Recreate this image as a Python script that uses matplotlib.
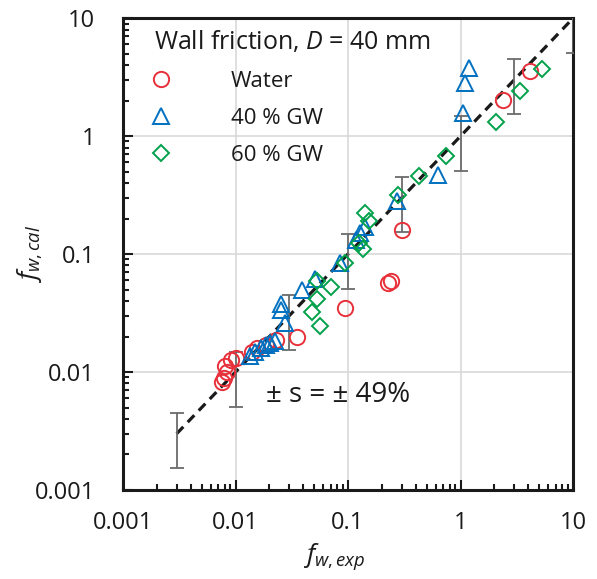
import matplotlib
matplotlib.use('Agg')
import matplotlib.pyplot as plt
from matplotlib.ticker import LogLocator, NullFormatter, FixedLocator

# values
water_x = [0.0076, 0.0079, 0.0084, 0.0081, 0.0091, 0.0101, 0.0140, 0.0155, 0.0187, 0.0229,
           0.0352, 0.094, 0.227, 0.241, 0.302, 2.37, 4.15]
water_y = [0.0082, 0.0089, 0.0100, 0.0113, 0.0127, 0.0132, 0.0148, 0.0160, 0.0169, 0.0187,
           0.0198, 0.0348, 0.0568, 0.0595, 0.160, 2.02, 3.58]

gw40_x = [0.0135, 0.0149, 0.0169, 0.0187, 0.0203, 0.0224, 0.0275, 0.0254, 0.0254, 0.039,
          0.0509, 0.0849, 0.118, 0.128, 0.142, 0.273, 0.631, 1.05, 1.10, 1.19]
gw40_y = [0.0137, 0.0148, 0.0160, 0.0169, 0.0176, 0.0183, 0.026, 0.0335, 0.0377, 0.0495,
          0.0614, 0.0839, 0.1315, 0.151, 0.169, 0.281, 0.467, 1.57, 2.81, 3.77]

gw60_x = [0.0564, 0.0479, 0.053, 0.053, 0.0706, 0.094, 0.136, 0.125, 0.142, 0.154,
          0.278, 0.428, 0.743, 2.07, 3.38, 5.3]
gw60_y = [0.0246, 0.0322, 0.0416, 0.059, 0.0525, 0.084, 0.110, 0.125, 0.222, 0.191,
          0.316, 0.458, 0.678, 1.315, 2.40, 3.70]

line_x = [0.003, 10]
err_x = [0.003, 0.01, 0.03, 0.1, 0.3, 1, 3, 10]
s_dev = 0.49

ticks = [0.001, 0.01, 0.1, 1, 10]
tick_labels = ['0.001', '0.01', '0.1', '1', '10']

plt.rcParams['font.family'] = ['Open Sans', 'DejaVu Sans']
plt.rcParams['mathtext.fontset'] = 'custom'
plt.rcParams['mathtext.rm'] = 'Open Sans'
plt.rcParams['mathtext.it'] = 'Open Sans:italic'

fig = plt.figure(figsize=(5.97, 5.79), dpi=100)
ax = fig.add_axes([0.206, 0.1537, 0.754, 0.815])
ax.set_xscale('log')
ax.set_yscale('log')
ax.set_xlim(0.001, 10)
ax.set_ylim(0.001, 10)

ax.grid(True, which='major', color='#d9d9d9', lw=1.2, zorder=0)
ax.set_axisbelow(True)

ax.plot(line_x, line_x, ls=(0, (3, 2)), color='#1a1a1a', lw=2.3, zorder=2)
ax.errorbar(err_x, err_x, yerr=[[s_dev * v for v in err_x], [s_dev * v for v in err_x]],
            fmt='none', ecolor='#6b6b6b', elinewidth=1.3, capsize=5, capthick=1.3, zorder=3)

ms = 11
ax.plot(water_x, water_y, 'o', mfc='none', mec='#e8303a', mew=1.4, ms=ms, label='Water', zorder=4)
ax.plot(gw40_x, gw40_y, '^', mfc='none', mec='#0070c0', mew=1.4, ms=ms, label='40 % GW', zorder=4)
ax.plot(gw60_x, gw60_y, 'D', mfc='none', mec='#00a14b', mew=1.4, ms=ms * 0.72, label='60 % GW', zorder=4)

ax.xaxis.set_major_locator(FixedLocator(ticks))
ax.yaxis.set_major_locator(FixedLocator(ticks))
ax.set_xticklabels(tick_labels)
ax.set_yticklabels(tick_labels)
ax.xaxis.set_minor_locator(LogLocator(base=10, subs=range(2, 10)))
ax.yaxis.set_minor_locator(LogLocator(base=10, subs=range(2, 10)))
ax.xaxis.set_minor_formatter(NullFormatter())
ax.yaxis.set_minor_formatter(NullFormatter())
ax.tick_params(which='major', direction='in', length=7, width=1.5, labelsize=17,
               colors='#1a1a1a')
ax.tick_params(which='minor', direction='in', length=4.5, width=1.5, colors='#1a1a1a')
ax.tick_params(axis='x', which='major', pad=15)
ax.tick_params(axis='y', which='major', pad=20)
for sp in ax.spines.values():
    sp.set_linewidth(2.2)
    sp.set_color('#1a1a1a')

ax.set_xlabel(r'$f_{w,exp}$', fontsize=19, color='#1a1a1a')
ax.set_ylabel(r'$f_{w,cal}$', fontsize=19, color='#1a1a1a')
ax.xaxis.set_label_coords(0.47, -0.14)
ax.xaxis.label.set_va('center')
ax.yaxis.set_label_coords(-0.205, 0.50)
ax.yaxis.label.set_va('center')

ax.text(0.068, 0.95, r'Wall friction, $D$ = 40 mm', transform=ax.transAxes,
        fontsize=18, color='#1a1a1a', va='center')
ax.legend(loc='upper left', bbox_to_anchor=(140 / 597, 1 - 71 / 579),
          bbox_transform=fig.transFigure, frameon=False, fontsize=16,
          handlelength=1.9, handletextpad=2.2, labelspacing=0.72,
          borderpad=0, borderaxespad=0, labelcolor='#1a1a1a')

ax.text(0.318, 0.201, '\u00b1 s = \u00b1 49%', transform=ax.transAxes,
        fontsize=20, color='#1a1a1a', va='center')

fig.savefig('out.png', dpi=100)
